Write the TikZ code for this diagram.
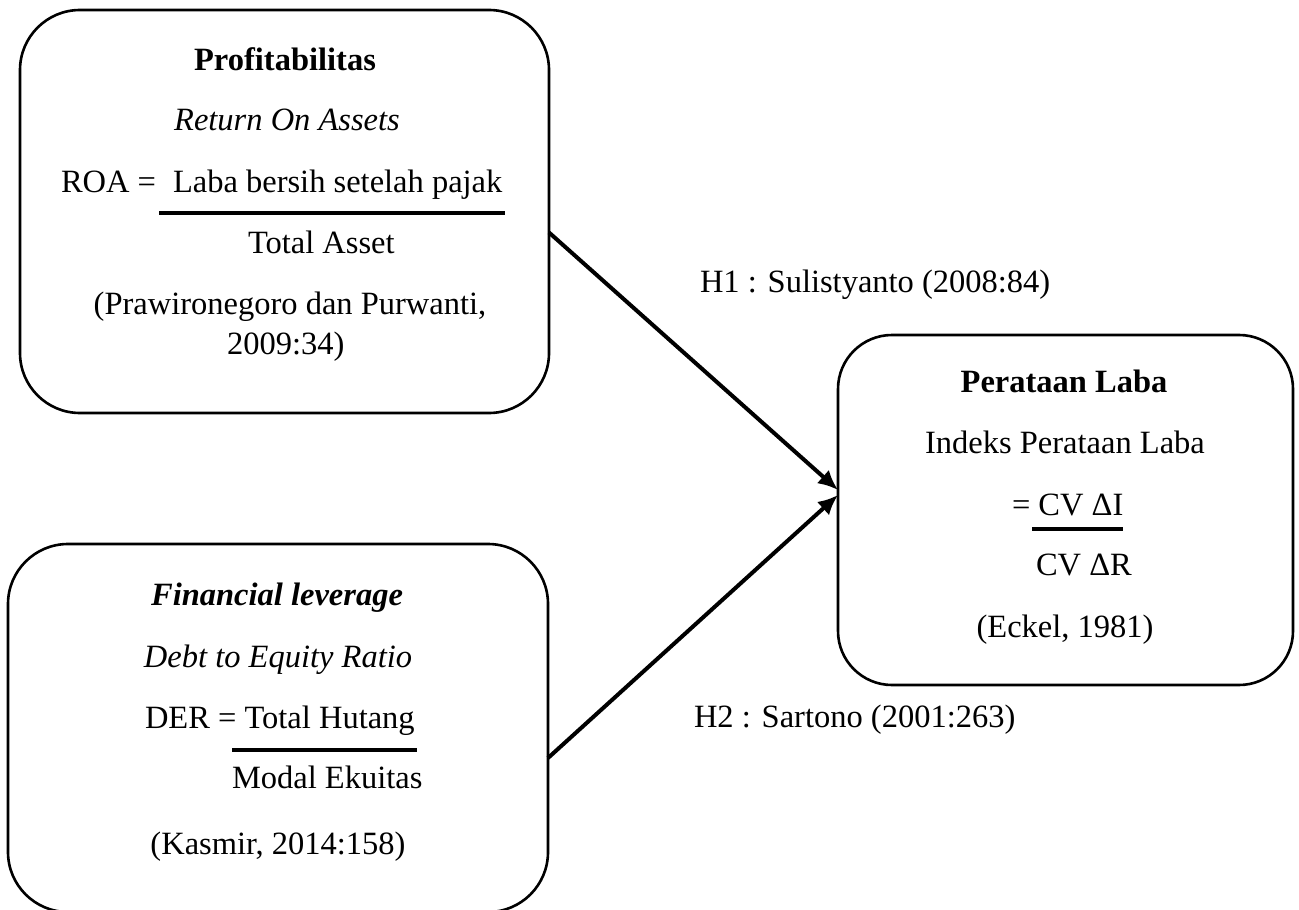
\documentclass[tikz,border=0pt]{standalone}
\usepackage{fontspec}
\setmainfont{Liberation Serif}
\usetikzlibrary{arrows.meta,calc}
\begin{document}
\begin{tikzpicture}[x=0.5pt,y=-0.5pt,
  every node/.style={font=\fontsize{16.25pt}{20pt}\selectfont, inner sep=0pt, outer sep=0pt},
  box/.style={draw, line width=1.3pt, rounded corners=30pt},
  fracbar/.style={line width=2pt},
  link/.style={line width=2pt, -{Latex[length=10pt,width=9pt]}},
  txt/.style={anchor=base},
  txtl/.style={anchor=base west}]
\useasboundingbox (0,0) rectangle (1299,909);
\clip (0,0) rectangle (1299,909);
% boxes
\node[box, minimum width=264.5pt, minimum height=201.5pt] (box1) at (284.5,211.5) {};
\node[box, minimum width=270pt, minimum height=184pt] (box2) at (278,728) {};
\node[box, rounded corners=27pt, minimum width=227.5pt, minimum height=175pt] (box3) at (1065.5,510) {};
% box 1 text
\node[txt] (p1) at (285,71) {\textbf{Profitabilitas}};
\node[txt] (p2) at (287,131) {\textit{Return On Assets}};
\node[txtl] (p3) at (61,192) {ROA =};
\node[txtl] (p4) at (173,192) {Laba bersih setelah pajak};
\draw[fracbar] (159,213) -- (505,213);
\node[txtl] (p5) at (248,253) {Total Asset};
\node[txt] (p6) at (290,314) {(Prawironegoro dan Purwanti,};
\node[txtl] (p7) at (227,354) {2009:34)};
% box 2 text
\node[txt] (f1) at (277,605) {\textbf{\textit{Financial leverage}}};
\node[txt] (f2) at (278,667) {\textit{Debt to Equity Ratio}};
\node[txtl] (f3) at (145,728) {DER = Total Hutang};
\draw[fracbar] (232,750) -- (417,750);
\node[txtl] (f4) at (232,788) {Modal Ekuitas};
\node[txt] (f5) at (278,854) {(Kasmir, 2014:158)};
% box 3 text
\node[txt] (e1) at (1064,392) {\textbf{Perataan Laba}};
\node[txt] (e2) at (1065,453) {Indeks Perataan Laba};
\node[txtl] (e3) at (1012,515) {= CV ΔI};
\draw[fracbar] (1032,529) -- (1123,529);
\node[txtl] (e4) at (1036,575) {CV ΔR};
\node[txt] (e5) at (1065,637) {(Eckel, 1981)};
% labels
\node[txtl] (h1) at (700,292) {H1 : Sulistyanto (2008:84)};
\node[txtl] (h2) at (694,727) {H2 : Sartono (2001:263)};
% connectors
\coordinate (s1) at ($(box1.east)+(0,21)$);
\coordinate (s2) at ($(box2.east)+(0,30)$);
\coordinate (t1) at ($(box3.west)+(0,-20)$);
\coordinate (t2) at ($(box3.west)+(0,-15)$);
\draw[link] (s1) -- (t1);
\draw[link] (s2) -- (t2);
\end{tikzpicture}
\end{document}
